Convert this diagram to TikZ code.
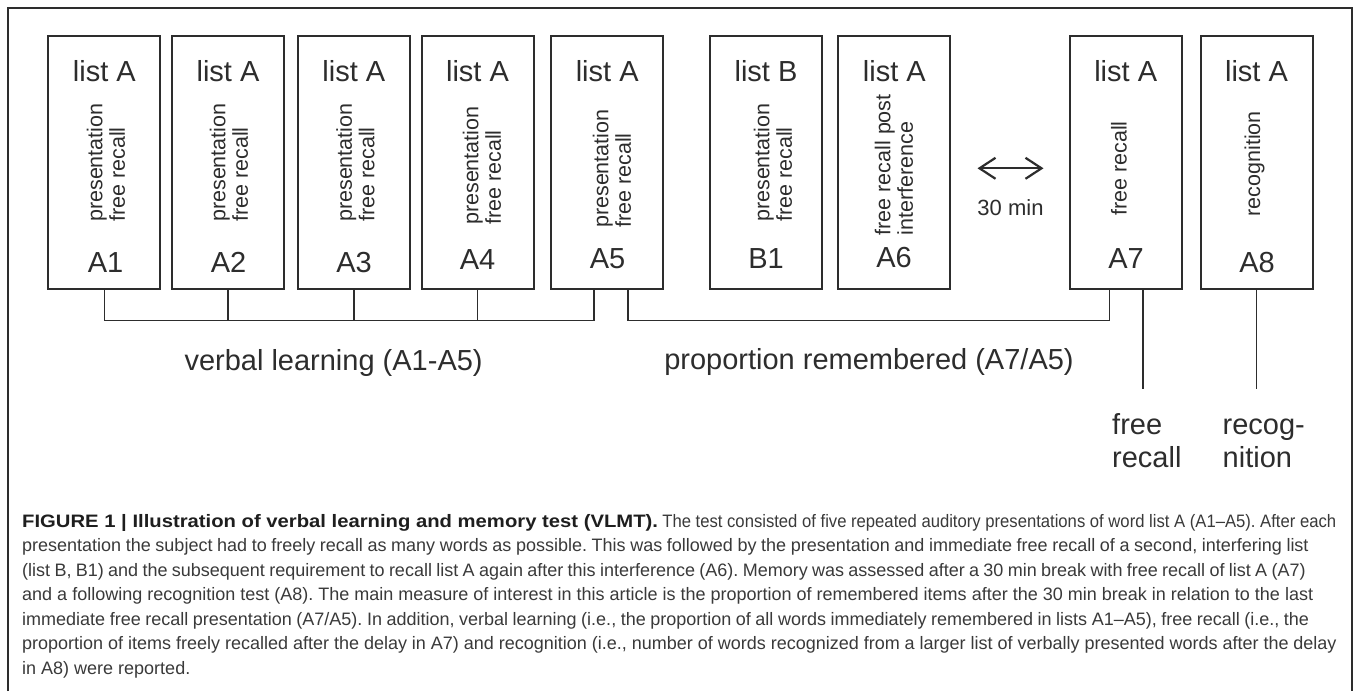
\documentclass[tikz,border=0pt]{standalone}
\usepackage{fontspec}
\setmainfont{Liberation Sans}
\newfontfamily\capfont{Liberation Sans}
\usetikzlibrary{arrows.meta}
\definecolor{ink}{HTML}{2D2D2D}
\definecolor{capink}{HTML}{3A3A3A}
\definecolor{capbold}{HTML}{1E1E1E}
\newcommand\capline[2]{\makebox[#1][s]{#2}}
\begin{document}
\begin{tikzpicture}[x=1pt,y=-1pt,
  box/.style={draw=ink, line width=2pt, minimum width=112pt, minimum height=253pt, inner sep=0pt},
  lst/.style={anchor=base, inner sep=0pt, text=ink, font=\fontsize{29}{31}\selectfont},
  code/.style={anchor=base, inner sep=0pt, text=ink, font=\fontsize{29}{31}\selectfont},
  rot/.style={rotate=90, anchor=west, inner sep=0pt, align=left, text=ink, font=\fontsize{21.5}{22.5}\selectfont},
  conn/.style={draw=ink, line width=1.6pt},
  lbl/.style={anchor=base, inner sep=0pt, text=ink, font=\fontsize{29}{33}\selectfont},
  frame/.style={draw=ink, line width=1.5pt}]
\useasboundingbox (0,0) rectangle (1354,691);
\fill[white] (0,0) rectangle (1354,691);
\draw[frame] (8,691) -- (8,8) -- (1352,8) -- (1352,691);

% boxes
\node[box] (A1) at (104.3,162.2) {};
\node[box] (A2) at (228,162.2) {};
\node[box] (A3) at (353.8,162.2) {};
\node[box] (A4) at (477.5,162.2) {};
\node[box] (A5) at (607.2,162.2) {};
\node[box] (B1) at (766,162.2) {};
\node[box] (A6) at (894.3,162.2) {};
\node[box] (A7) at (1125.7,162.2) {};
\node[box] (A8) at (1256.5,162.2) {};

% list titles
\node[lst] (tA1) at (104.3,81) {list A};
\node[lst] (tA2) at (228,81) {list A};
\node[lst] (tA3) at (353.8,81) {list A};
\node[lst] (tA4) at (477.5,81) {list A};
\node[lst] (tA5) at (607.2,81) {list A};
\node[lst] (tB1) at (766,81) {list B};
\node[lst] (tA6) at (894.3,81) {list A};
\node[lst] (tA7) at (1125.7,81) {list A};
\node[lst] (tA8) at (1256.5,81) {list A};

% rotated descriptions
\node[rot] (dA1) at (106,222) {presentation\\free recall};
\node[rot] (dA2) at (229,222) {presentation\\free recall};
\node[rot] (dA3) at (355.4,222) {presentation\\free recall};
\node[rot] (dA4) at (482,225) {presentation\\free recall};
\node[rot] (dA5) at (612,228) {presentation\\free recall};
\node[rot] (dB1) at (773,222) {presentation\\free recall};
\node[rot] (dA6) at (894,235.5) {free recall post\\interference};
\node[rot] (dA7) at (1119,216) {free recall};
\node[rot] (dA8) at (1254.5,216.5) {recognition};

% codes
\node[code] (cA1) at (105.5,272) {A1};
\node[code] (cA2) at (228.5,272) {A2};
\node[code] (cA3) at (354,272) {A3};
\node[code] (cA4) at (477.5,269) {A4};
\node[code] (cA5) at (607.5,268) {A5};
\node[code] (cB1) at (766,268) {B1};
\node[code] (cA6) at (894,267) {A6};
\node[code] (cA7) at (1126,268) {A7};
\node[code] (cA8) at (1257,272) {A8};

% 30 min arrow
\coordinate (aL) at (977.5,168.3);
\coordinate (aR) at (1043.5,168.3);
\draw[draw=ink, line width=2.2pt, {Straight Barb[length=16pt,width=21pt]}-{Straight Barb[length=16pt,width=21pt]}] (aL) -- (aR);
\node[anchor=base, inner sep=0pt, text=ink, font=\fontsize{22}{24}\selectfont] (tmin) at (1010.5,215) {30 min};

% connectors
\coordinate (hl) at (0,320.5);
\draw[conn] (A1.south) -- (A1.south |- hl) -| ([xshift=-13.2pt]A5.south);
\draw[conn] (A2.south) -- (A2.south |- hl);
\draw[conn] (A3.south) -- (A3.south |- hl);
\draw[conn] (A4.south) -- (A4.south |- hl);
\draw[conn] ([xshift=20.5pt]A5.south) -- ([xshift=20.5pt]A5.south |- hl) -| ([xshift=-16.4pt]A7.south);
\coordinate (e7) at (1143,389);
\coordinate (e8) at (1256.5,389);
\draw[conn] ([xshift=17.3pt]A7.south) -- (e7);
\draw[conn] (A8.south) -- (e8);

% labels
\node[lbl] (vl) at (333.6,370) {verbal learning (A1-A5)};
\node[lbl] (pr) at (869,369) {proportion remembered (A7/A5)};
\node[lbl, anchor=base west] (fr) at (1112,434) {\begin{tabular}[t]{@{}l@{}}free\\recall\end{tabular}};
\node[lbl, anchor=base west] (rc) at (1222.5,434) {\begin{tabular}[t]{@{}l@{}}recog-\\nition\end{tabular}};

% caption
\node[anchor=base west, inner sep=0pt, text=capink] (cap) at (22,527) {\parbox[t]{1400pt}{\capfont\fontsize{18}{24.5}\selectfont\raggedright\frenchspacing
\spaceskip=0.278em plus 0.4em minus 0.2em
\capline{1314pt}{\textcolor{capbold}{\scalebox{1.125}[1]{\textbf{FIGURE 1 | Illustration of verbal learning and memory test (VLMT).}}} \scalebox{0.925}[1]{The test consisted of five repeated auditory presentations of word list A (A1–A5). After each}}\\
\capline{1286.5pt}{presentation the subject had to freely recall as many words as possible. This was followed by the presentation and immediate free recall of a second, interfering list}\\
\capline{1283.5pt}{(list B, B1) and the subsequent requirement to recall list A again after this interference (A6). Memory was assessed after a 30 min break with free recall of list A (A7)}\\
\capline{1291pt}{and a following recognition test (A8). The main measure of interest in this article is the proportion of remembered items after the 30 min break in relation to the last}\\
\capline{1287pt}{immediate free recall presentation (A7/A5). In addition, verbal learning (i.e., the proportion of all words immediately remembered in lists A1–A5), free recall (i.e., the}\\
\capline{1314.5pt}{proportion of items freely recalled after the delay in A7) and recognition (i.e., number of words recognized from a larger list of verbally presented words after the delay}\\
in A8) were reported.}};
\end{tikzpicture}
\end{document}
